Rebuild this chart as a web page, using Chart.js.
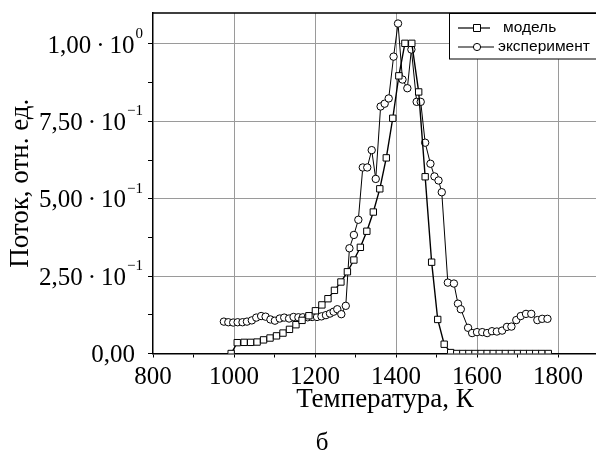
<!DOCTYPE html>
<html>
<head>
<meta charset="utf-8">
<script src="https://cdn.jsdelivr.net/npm/chart.js@4.4.1/dist/chart.umd.min.js"></script>
<style>
  html, body { margin: 0; padding: 0; background: #fff; overflow: hidden; }
  canvas { display: block; }
</style>
</head>
<body>
<canvas id="fluxChart" width="604" height="455"></canvas>
<script>
// Model curve (squares), temperature in K and relative flux
const modelT = [993, 1008, 1025, 1041, 1057, 1073, 1089, 1105, 1121, 1137, 1153, 1168, 1185,
  1201, 1217, 1232, 1248, 1264, 1280, 1296, 1312, 1328, 1344, 1360, 1376, 1392, 1407, 1422,
  1439, 1456, 1472, 1488, 1503, 1519, 1535, 1550, 1565, 1580, 1595, 1610, 1625, 1640, 1655,
  1670, 1685, 1700, 1715, 1730, 1745, 1760, 1776];
const modelFlux = [0, 0.035, 0.036, 0.036, 0.037, 0.044, 0.050, 0.057, 0.066, 0.078, 0.093,
  0.107, 0.122, 0.138, 0.157, 0.177, 0.204, 0.231, 0.264, 0.302, 0.343, 0.395, 0.457, 0.532,
  0.632, 0.760, 0.897, 1.002, 1.002, 0.845, 0.571, 0.295, 0.110, 0.030, 0.003, 0, 0, 0, 0,
  0, 0, 0, 0, 0, 0, 0, 0, 0, 0, 0, 0];

// Experiment (circles)
const expT = [975, 986, 998, 1009, 1021, 1032, 1044, 1055, 1067, 1078, 1090, 1101, 1113, 1124,
  1136, 1147, 1159, 1170, 1182, 1193, 1205, 1216, 1227, 1237, 1246, 1255, 1265, 1276, 1285,
  1296, 1307, 1318, 1329, 1340, 1350, 1362, 1372, 1382, 1394, 1405, 1416, 1428, 1438, 1451,
  1461, 1472, 1485, 1495, 1505, 1513, 1528, 1543, 1553, 1560, 1578, 1588, 1600, 1613, 1625,
  1637, 1649, 1662, 1674, 1685, 1697, 1708, 1721, 1734, 1749, 1761, 1774];
const expFlux = [0.103, 0.101, 0.100, 0.101, 0.101, 0.103, 0.107, 0.116, 0.121, 0.119, 0.110,
  0.106, 0.113, 0.116, 0.113, 0.118, 0.117, 0.117, 0.117, 0.118, 0.118, 0.120, 0.124, 0.129,
  0.135, 0.143, 0.127, 0.154, 0.340, 0.383, 0.432, 0.601, 0.601, 0.657, 0.564, 0.798, 0.807,
  0.824, 0.959, 1.066, 0.885, 0.857, 0.982, 0.813, 0.813, 0.681, 0.613, 0.572, 0.559, 0.521,
  0.229, 0.226, 0.161, 0.143, 0.083, 0.066, 0.069, 0.069, 0.066, 0.072, 0.071, 0.074, 0.086,
  0.087, 0.108, 0.121, 0.128, 0.128, 0.108, 0.112, 0.112];

const seriesNames = ["модель", "эксперимент"];
const xTickLabels = [800, 1000, 1200, 1400, 1600, 1800];
const yTickValues = [0, 0.25, 0.5, 0.75, 1.0];
const yTickMantissa = ["0,00", "2,50", "5,00", "7,50", "1,00"];
const yTickExponent = ["", "−1", "−1", "−1", "0"];
const xTitle = "Температура, К";
const yTitle = "Поток, отн. ед.";

const SERIF = "'Liberation Serif', 'Times New Roman', serif";
const SANS = "'Liberation Sans', Arial, sans-serif";
const GRID = "#9a9a9a";

// y labels as mantissa·10^exp, placed on the library's tick pixels
const yLabelsPlugin = {
  id: "yLabels",
  afterDraw(chart) {
    const ctx = chart.ctx;
    const yScale = chart.scales.y;
    ctx.save();
    ctx.fillStyle = "#000";
    ctx.textBaseline = "middle";
    ctx.textAlign = "right";
    yTickValues.forEach((v, i) => {
      const py = yScale.getPixelForValue(v) + 2;
      const exp = yTickExponent[i];
      if (!exp) {
        ctx.font = `25px ${SERIF}`;
        ctx.fillText(yTickMantissa[i], 135, py);
        return;
      }
      ctx.font = `15px ${SERIF}`;
      ctx.fillText(exp, 143, py - 12);
      const right = 143 - ctx.measureText(exp).width - 1;
      ctx.font = `25px ${SERIF}`;
      ctx.fillText(yTickMantissa[i] + "\u2009·\u200910", right, py);
    });
    ctx.restore();
  },
};

// plot frame top line, x title, legend box and the panel letter
const framePlugin = {
  id: "frame",
  afterDraw(chart) {
    const ctx = chart.ctx;
    const area = chart.chartArea;
    ctx.save();
    ctx.strokeStyle = "#000";
    ctx.lineWidth = 1.5;
    ctx.beginPath();
    ctx.moveTo(area.left, area.top);
    ctx.lineTo(area.right, area.top);
    ctx.lineTo(area.right, area.bottom);
    ctx.stroke();

    // legend
    const bx = 449.5, by = 13.5, bw = 151, bh = 45.5;
    ctx.fillStyle = "#fff";
    ctx.fillRect(bx, by, bw, bh);
    ctx.lineWidth = 1;
    ctx.strokeRect(bx, by, bw, bh);

    const rows = [
      { y: 28, x0: 458, x1: 490, tx: 503, style: "rect" },
      { y: 47, x0: 458, x1: 494, tx: 498, style: "circle" },
    ];
    ctx.font = `15.5px ${SANS}`;
    ctx.textBaseline = "middle";
    ctx.textAlign = "left";
    rows.forEach((r, i) => {
      ctx.strokeStyle = "#000";
      ctx.lineWidth = 1.2;
      ctx.beginPath();
      ctx.moveTo(r.x0, r.y);
      ctx.lineTo(r.x1, r.y);
      ctx.stroke();
      ctx.fillStyle = "#fff";
      ctx.lineWidth = 1;
      ctx.beginPath();
      if (r.style === "rect") ctx.rect(473.5, r.y - 3.5, 7, 7);
      else ctx.arc(477, r.y, 3.6, 0, Math.PI * 2);
      ctx.fill();
      ctx.stroke();
      ctx.fillStyle = "#000";
      ctx.fillText(seriesNames[i], r.tx, r.y);
    });

    ctx.fillStyle = "#000";
    ctx.font = `27px ${SERIF}`;
    ctx.textAlign = "center";
    ctx.fillText(xTitle, 385, 400);
    ctx.font = `25px ${SERIF}`;
    ctx.fillText("б", 322, 443);
    ctx.restore();
  },
};

new Chart(document.getElementById("fluxChart"), {
  type: "line",
  data: {
    datasets: [
      {
        label: seriesNames[0],
        data: modelT.map((t, i) => ({ x: t, y: modelFlux[i] })),
        borderColor: "#000",
        borderWidth: 1.4,
        pointStyle: "rect",
        pointRadius: 4.5,
        pointBackgroundColor: "#fff",
        pointBorderColor: "#000",
        pointBorderWidth: 1,
        tension: 0,
      },
      {
        label: seriesNames[1],
        data: expT.map((t, i) => ({ x: t, y: expFlux[i] })),
        borderColor: "#000",
        borderWidth: 1,
        pointStyle: "circle",
        pointRadius: 3.7,
        pointBackgroundColor: "#fff",
        pointBorderColor: "#000",
        pointBorderWidth: 1,
        tension: 0,
      },
    ],
  },
  options: {
    responsive: false,
    animation: false,
    events: [],
    layout: { padding: { top: 13, right: 3, left: 0, bottom: 0 } },
    plugins: { legend: { display: false }, tooltip: { enabled: false } },
    scales: {
      x: {
        type: "linear",
        min: 800,
        max: 1900,
        afterFit: (s) => { s.height = 101.5; },
        ticks: {
          stepSize: 100,
          includeBounds: false,
          autoSkip: false,
          maxRotation: 0,
          padding: 5,
          color: "#000",
          font: { family: SERIF, size: 25 },
          callback: (v) => (xTickLabels.includes(v) ? String(v) : ""),
        },
        grid: {
          color: (c) => (c.tick && xTickLabels.includes(c.tick.value) && c.tick.value !== 800 ? GRID : "transparent"),
          tickColor: "#000",
          tickLength: 4,
        },
        border: { color: "#000", width: 1.5 },
        title: { display: false },
      },
      y: {
        min: 0,
        max: 1.1,
        afterFit: (s) => { s.width = 153; },
        ticks: { stepSize: 0.125, includeBounds: false, display: false },
        grid: {
          color: (c) => (c.tick && c.tick.value > 0 && yTickValues.includes(c.tick.value) ? GRID : "transparent"),
          tickColor: "#000",
          tickLength: 5,
        },
        border: { color: "#000", width: 1.5 },
        title: {
          display: true,
          text: yTitle,
          color: "#000",
          font: { family: SERIF, size: 27 },
          padding: { top: 5, bottom: 0 },
        },
      },
    },
  },
  plugins: [yLabelsPlugin, framePlugin],
});
</script>
</body>
</html>
